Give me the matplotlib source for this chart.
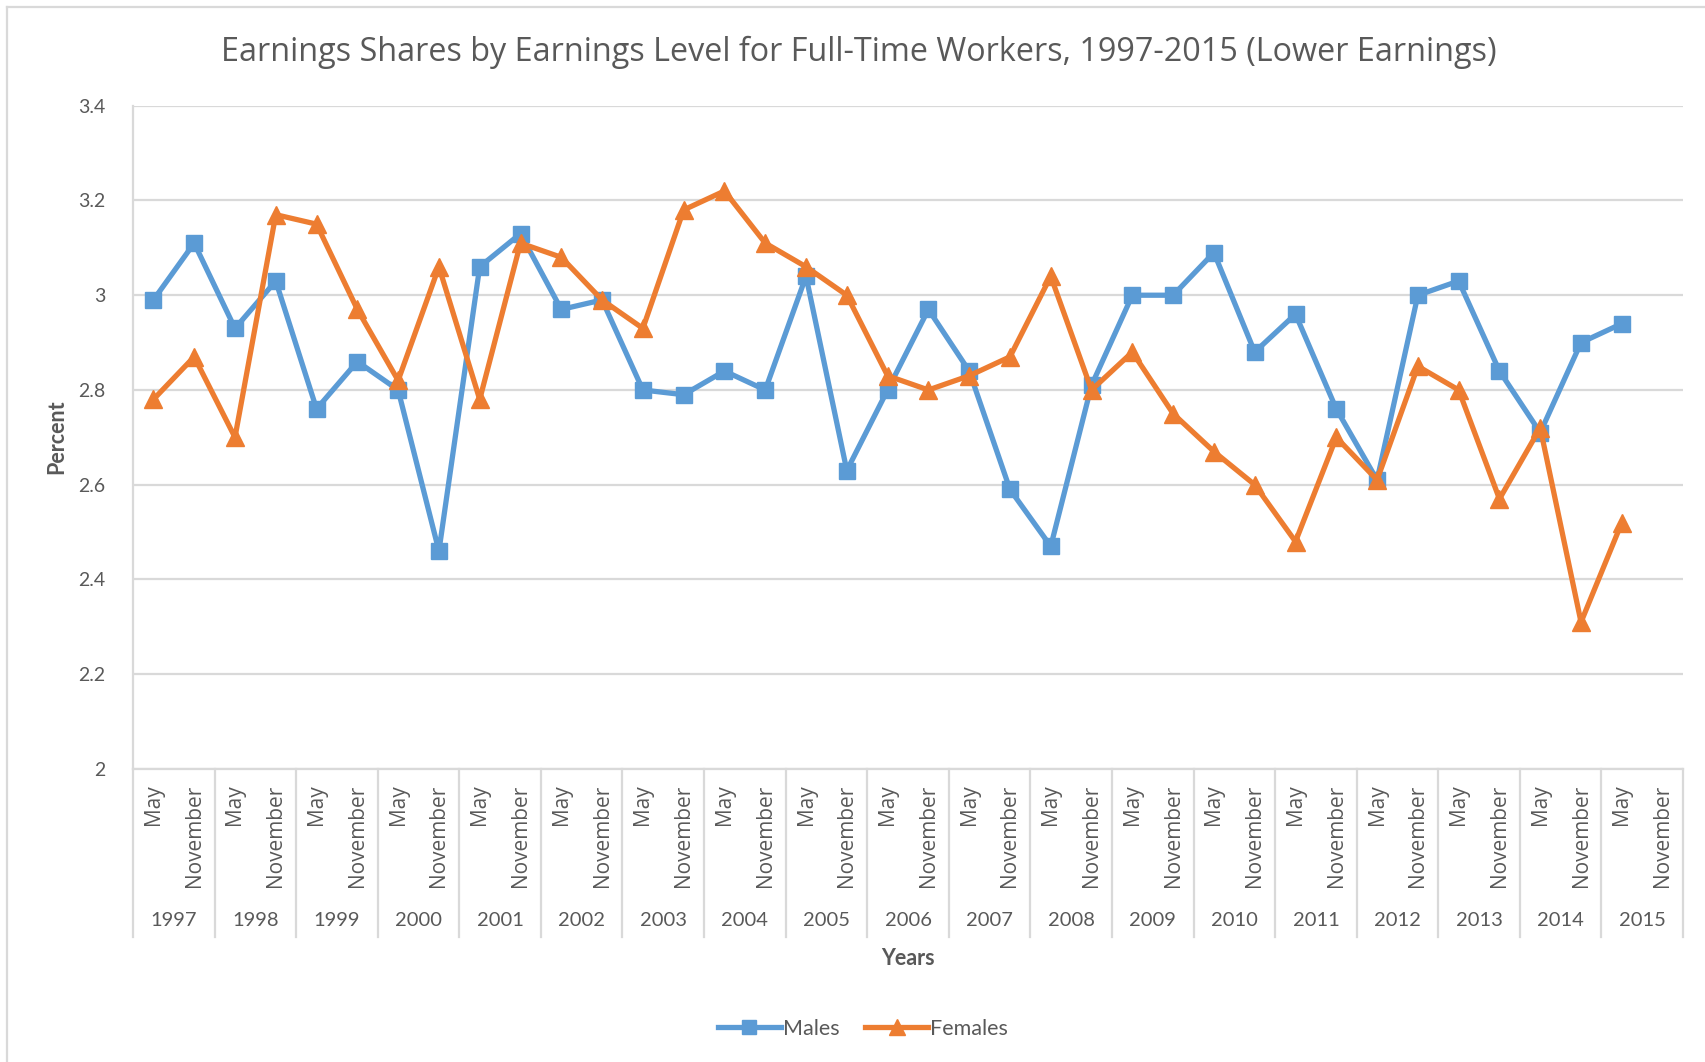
import matplotlib
matplotlib.use("Agg")
import matplotlib.pyplot as plt
from matplotlib.lines import Line2D
import matplotlib.transforms as mtransforms

years = [str(y) for y in range(1997, 2016)]
months = ["May", "November"]
males = [2.99, 3.11, 2.93, 3.03, 2.76, 2.86, 2.80, 2.46, 3.06, 3.13,
         2.97, 2.99, 2.80, 2.79, 2.84, 2.80, 3.04, 2.63, 2.80, 2.97,
         2.84, 2.59, 2.47, 2.81, 3.00, 3.00, 3.09, 2.88, 2.96, 2.76,
         2.61, 3.00, 3.03, 2.84, 2.71, 2.90, 2.94]
females = [2.78, 2.87, 2.70, 3.17, 3.15, 2.97, 2.82, 3.06, 2.78, 3.11,
           3.08, 2.99, 2.93, 3.18, 3.22, 3.11, 3.06, 3.00, 2.83, 2.80,
           2.83, 2.87, 3.04, 2.80, 2.88, 2.75, 2.67, 2.60, 2.48, 2.70,
           2.61, 2.85, 2.80, 2.57, 2.72, 2.31, 2.52]
yticks = [2, 2.2, 2.4, 2.6, 2.8, 3, 3.2, 3.4]
ytick_labels = ["2", "2.2", "2.4", "2.6", "2.8", "3", "3.2", "3.4"]

BLUE = "#5B9BD5"
ORANGE = "#ED7D31"
GRID = "#D9D9D9"
TXT = "#595959"

W, H = 1705, 1062
fig = plt.figure(figsize=(W / 100, H / 100), dpi=100)
fig.patch.set_facecolor("white")

# chart border (top and left visible)
fig.add_artist(Line2D([7 / W, 1.0], [1 - 7 / H, 1 - 7 / H], color=GRID, lw=1.6))
fig.add_artist(Line2D([7 / W, 7 / W], [0, 1 - 7 / H], color=GRID, lw=1.6))

left, right = 133 / W, 1683 / W
bottom, top = 1 - 769 / H, 1 - 105.7 / H
ax = fig.add_axes([left, bottom, right - left, top - bottom])

ncat = len(years) * len(months)
xs = [i + 0.5 for i in range(len(males))]

ax.plot(xs, males, color=BLUE, lw=3.8, marker="s", ms=11.5, label="Males",
        solid_joinstyle="round", zorder=3)
ax.plot(xs, females, color=ORANGE, lw=3.8, marker="^", ms=13, label="Females",
        solid_joinstyle="round", zorder=4)

ax.set_xlim(0, ncat)
ax.set_ylim(2, 3.4)
ax.set_yticks(yticks)
ax.set_yticklabels(ytick_labels, fontfamily="Lato", fontsize=14, color=TXT)
ax.tick_params(axis="y", length=0, pad=20)
ax.grid(axis="y", color=GRID, lw=1.6)
ax.set_axisbelow(True)
for s in ["top", "right"]:
    ax.spines[s].set_visible(False)
ax.spines["left"].set_color(GRID)
ax.spines["left"].set_linewidth(1.6)
ax.spines["bottom"].set_color(GRID)
ax.spines["bottom"].set_linewidth(1.6)

month_labels = [m for _ in years for m in months]
ax.set_xticks([i + 0.5 for i in range(ncat)])
ax.set_xticklabels(month_labels, rotation=90, va="top", ha="center",
                   fontfamily="Open Sans", fontsize=15, color=TXT)
ax.tick_params(axis="x", length=0, pad=11)

trans = mtransforms.blended_transform_factory(ax.transData, ax.transAxes)
for k in range(len(years) + 1):
    ax.add_line(Line2D([2 * k, 2 * k], [0, -0.253], transform=trans,
                       color=GRID, lw=1.6, clip_on=False))
for k, y in enumerate(years):
    ax.text(2 * k + 1, -0.2285, y, transform=trans, ha="center", va="center",
            fontfamily="Lato", fontsize=14.5, color=TXT)

ax.text(0.5, -0.285, "Years", transform=ax.transAxes, ha="center", va="center",
        fontfamily="Lato", fontsize=15.5, fontweight="bold", color=TXT)
fig.text(57 / W, 1 - 437 / H, "Percent", rotation=90, ha="center", va="center",
         fontfamily="Lato", fontsize=15.5, fontweight="bold", color=TXT)

fig.text(859 / W, 1 - 52 / H,
         "Earnings Shares by Earnings Level for Full-Time Workers, 1997-2015 (Lower Earnings)",
         ha="center", va="center", fontfamily="Open Sans", fontsize=23.3, color=TXT)

leg = fig.legend(loc="center", bbox_to_anchor=(863 / W, 1 - 1029 / H), ncol=2,
                 frameon=False, handlelength=2.9, handletextpad=0.1,
                 columnspacing=1.2, markerscale=0.9,
                 prop={"family": "Lato", "size": 15.5})
for t in leg.get_texts():
    t.set_color(TXT)

fig.savefig("out.png", dpi=100, facecolor="white")
